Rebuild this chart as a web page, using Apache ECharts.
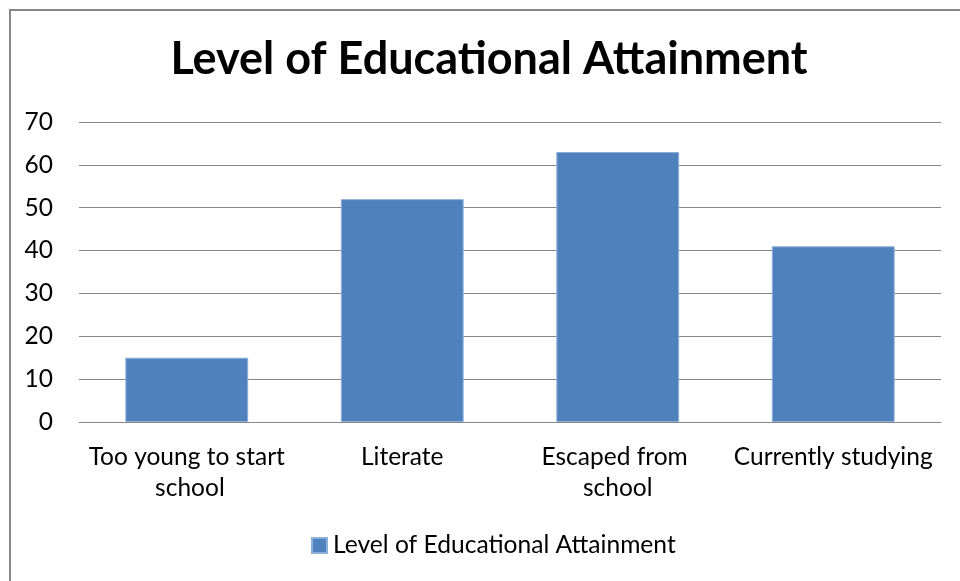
<!DOCTYPE html>
<html>
<head>
<meta charset="utf-8">
<script src="https://cdn.jsdelivr.net/npm/echarts@6/dist/echarts.min.js"></script>
<style>
  html, body { margin: 0; padding: 0; background: #fff; }
  #chart { width: 960px; height: 581px; }
</style>
</head>
<body>
<div id="chart"></div>
<script>
// Survey responses by level of educational attainment
const chartTitle = 'Level of Educational Attainment';
const seriesName = 'Level of Educational Attainment';
const categories = ['Too young to start school', 'Literate', 'Escaped from school', 'Currently studying'];
const values = [15, 52, 63, 41];
const yTicks = { min: 0, max: 70, interval: 10 };

const FONT = 'Lato';
const chart = echarts.init(document.getElementById('chart'), null, { renderer: 'canvas' });

chart.setOption({
  animation: false,
  backgroundColor: '#ffffff',
  graphic: [{
    type: 'rect',
    shape: { x: 10, y: 10, width: 1000, height: 1000 },
    style: { fill: 'none', stroke: '#878787', lineWidth: 2 },
    silent: true
  }],
  title: {
    text: chartTitle,
    left: 489,
    textAlign: 'center',
    top: 37,
    padding: 0,
    textStyle: { fontFamily: FONT, fontWeight: 'bold', fontSize: 45, color: '#000' }
  },
  legend: {
    data: [seriesName],
    left: 311,
    top: 533,
    padding: 0,
    icon: 'rect',
    itemWidth: 15,
    itemHeight: 15,
    itemGap: 6,
    textStyle: { fontFamily: FONT, fontSize: 24.6, lineHeight: 24, color: '#000', padding: [0, 0, 0, 1] }
  },
  grid: { left: 79, right: 19, top: 122, bottom: 159, containLabel: false },
  xAxis: {
    type: 'category',
    data: categories,
    axisLine: { show: true, lineStyle: { color: '#878787', width: 1 } },
    axisTick: { show: false },
    axisLabel: {
      interval: 0,
      margin: 20,
      fontFamily: FONT,
      fontSize: 24.5,
      color: '#000',
      lineHeight: 31,
      width: 202,
      overflow: 'break'
    }
  },
  yAxis: {
    type: 'value',
    min: yTicks.min,
    max: yTicks.max,
    interval: yTicks.interval,
    axisLine: { show: false },
    axisTick: { show: false },
    axisLabel: { margin: 26, fontFamily: FONT, fontSize: 24.5, color: '#000' },
    splitLine: { show: true, lineStyle: { color: '#878787', width: 1 } }
  },
  series: [{
    name: seriesName,
    type: 'bar',
    data: values,
    barWidth: '57%',
    itemStyle: { color: '#4F81BD', borderColor: '#8DB0DA', borderWidth: 1 }
  }]
});
</script>
</body>
</html>
